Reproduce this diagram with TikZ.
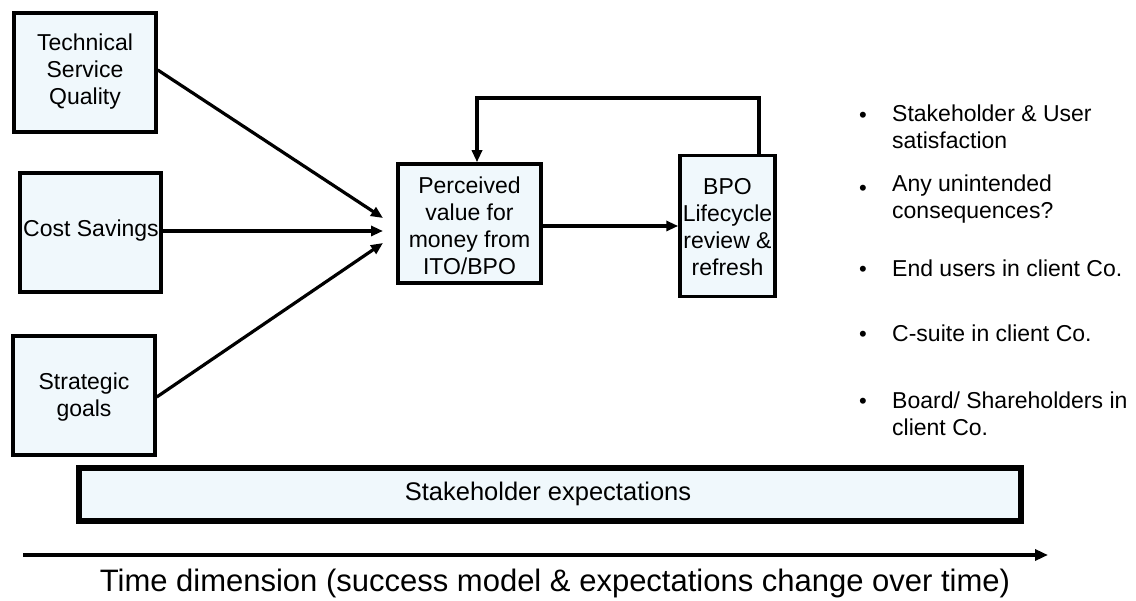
\documentclass[tikz,border=0pt]{standalone}
\usepackage{fontspec}
\setmainfont{Liberation Sans}
\usetikzlibrary{arrows.meta}
\definecolor{boxfill}{RGB}{240,248,252}
\tikzset{
  box/.style={draw=black, line width=3.5pt, fill=boxfill, inner sep=0pt},
  lbl/.style={align=center, font=\fontsize{23}{27}\selectfont},
  conn/.style={line width=3.2pt, -{Triangle[length=12pt,width=10pt]}},
  bul/.style={anchor=west, align=left, font=\fontsize{23}{27}\selectfont, inner sep=0pt},
  dot/.style={anchor=center, font=\fontsize{22}{27}\selectfont, inner sep=0pt}
}
\begin{document}
\begin{tikzpicture}[x=1pt,y=-1pt]
\useasboundingbox (0,0) rectangle (1136,601);
% boxes
\node[box, minimum width=142pt, minimum height=119pt] (tsq) at (85,72.5) {};
\node[lbl] at (85,72) {Technical\\Service\\Quality};
\node[box, minimum width=141pt, minimum height=119pt] (cost) at (90.5,232.5) {};
\node[lbl] at (91,231) {Cost Savings};
\node[box, minimum width=142pt, minimum height=119pt] (strat) at (84,395.5) {};
\node[lbl] at (84,397) {Strategic\\goals};
\node[box, minimum width=143pt, minimum height=119pt] (perc) at (469.5,223.5) {};
\node[lbl] at (469.5,226) {Perceived\\value for\\money from\\ITO/BPO};
\node[box, minimum width=95pt, minimum height=141pt] (bpo) at (727.5,226) {};
\node[lbl] at (727.5,227) {BPO\\Lifecycle\\review \&\\refresh};
% stakeholder bar
\node[draw=black, line width=6pt, fill=boxfill, minimum width=942pt, minimum height=53pt, inner sep=0pt] (bar) at (550,495) {};
\node[font=\fontsize{25.5}{30}\selectfont] at (548,494) {Stakeholder expectations};
% converge points
\coordinate (p1) at (383,218);
\coordinate (p2) at (383,231);
\coordinate (p3) at (383,243);
\draw[conn] (tsq.east |- 0,70) -- (p1);
\draw[conn] (cost.east |- p2) -- (p2);
\draw[conn] (strat.east |- 0,397) -- (p3);
\draw[conn] (perc.east |- 0,226) -- (bpo.west |- 0,226);
\coordinate (fb1) at (759,98);
\coordinate (fb2) at (477,98);
\draw[conn] (bpo.north -| fb1) -- (fb1) -- (fb2) -- (perc.north -| fb2);
% time arrow
\coordinate (t0) at (23,555);
\coordinate (t1) at (1048,555);
\draw[line width=4pt, -{Triangle[length=13pt,width=11pt]}] (t0) -- (t1);
\node[font=\fontsize{31}{34}\selectfont] (time) at (555,583) {Time dimension (success model \& expectations change over time)};
% bullets
\foreach \y in {117,190,271,336,403} \node[dot] at (863,\y) {•};
\node[bul] at (892,126.5) {Stakeholder \& User\\satisfaction};
\node[bul] at (892,199.5) {Any unintended\\consequences?};
\node[bul] at (892,268) {End users in client Co.};
\node[bul] at (892,333) {C-suite in client Co.};
\node[bul] at (892,413.5) {Board/ Shareholders in\\client Co.};
\end{tikzpicture}
\end{document}
